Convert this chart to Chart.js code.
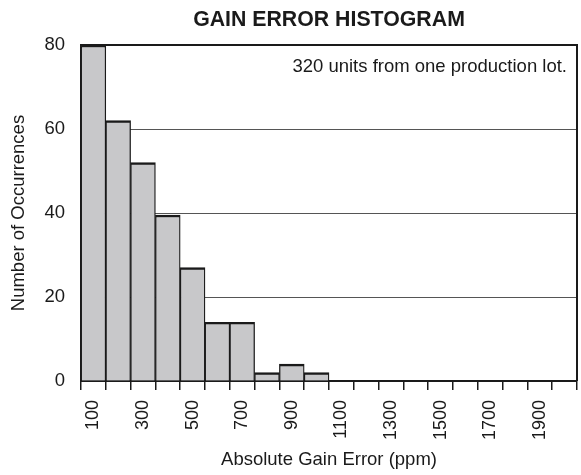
<!DOCTYPE html>
<html>
<head>
<meta charset="utf-8">
<script src="https://cdn.jsdelivr.net/npm/chart.js@4"></script>
<style>
  html, body { margin: 0; padding: 0; background: #fff; }
  #wrap { width: 581px; height: 475px; }
</style>
</head>
<body>
<div id="wrap"><canvas id="hist"></canvas></div>
<script>
// bins of absolute gain error (ppm) and counts per bin
const categories = ['100', '200', '300', '400', '500', '600', '700', '800', '900', '1000',
                    '1100', '1200', '1300', '1400', '1500', '1600', '1700', '1800', '1900', '2000'];
const counts = [80, 62, 52, 39.5, 27, 14, 14, 2, 4, 2, 0, 0, 0, 0, 0, 0, 0, 0, 0, 0];
const tickLabels = ['100', '300', '500', '700', '900', '1100', '1300', '1500', '1700', '1900'];
const yTicks = [0, 20, 40, 60, 80];
const note = '320 units from one production lot.';

const FONT = '"Liberation Sans", Arial, sans-serif';
const INK = '#1a1a1a';

const framePlugin = {
  id: 'frame',
  afterDraw(chart) {
    const { ctx, chartArea: a } = chart;
    ctx.save();
    ctx.strokeStyle = INK;
    ctx.lineWidth = 2;
    ctx.beginPath();
    ctx.moveTo(a.left, a.top);
    ctx.lineTo(a.right, a.top);
    ctx.lineTo(a.right, a.bottom);
    ctx.stroke();
    ctx.font = '18.5px ' + FONT;
    ctx.fillStyle = INK;
    ctx.textAlign = 'right';
    ctx.textBaseline = 'alphabetic';
    ctx.fillText(note, a.right - 10, 72);
    ctx.restore();
  }
};

new Chart(document.getElementById('hist'), {
  type: 'bar',
  data: {
    labels: categories,
    datasets: [{
      data: counts,
      backgroundColor: '#c8c8ca',
      borderColor: INK,
      borderWidth: { top: 2.4, left: 1.3, right: 1.3, bottom: 0 },
      barPercentage: 1,
      categoryPercentage: 1
    }]
  },
  options: {
    responsive: true,
    maintainAspectRatio: false,
    animation: false,
    layout: { padding: { left: 0, right: 4, top: 0, bottom: 0 } },
    plugins: {
      legend: { display: false },
      tooltip: { enabled: false },
      title: {
        display: true,
        fullSize: false,
        text: 'GAIN ERROR HISTOGRAM',
        color: INK,
        font: { family: FONT, size: 21.3, weight: 'bold', lineHeight: 1.2 },
        padding: { top: 7.5, bottom: 12 }
      }
    },
    scales: {
      x: {
        afterFit(scale) {
          scale.height = 94;
          scale.paddingLeft = 0;
          scale.paddingRight = 0;
        },
        border: { display: true, color: INK, width: 2 },
        grid: { drawOnChartArea: false, drawTicks: true, tickLength: 9, color: INK, lineWidth: 1.5 },
        ticks: {
          autoSkip: false,
          maxRotation: 90,
          minRotation: 90,
          padding: 10,
          color: INK,
          font: { family: FONT, size: 18 },
          callback: (v, i) => tickLabels.includes(categories[i]) ? categories[i] : ''
        },
        title: {
          display: true,
          text: 'Absolute Gain Error (ppm)',
          color: INK,
          font: { family: FONT, size: 18.5, lineHeight: 1.2 },
          padding: { top: 0, bottom: 4 }
        }
      },
      y: {
        min: 0,
        max: 80,
        afterFit(scale) { scale.width = 81; },
        afterBuildTicks(scale) { scale.ticks = yTicks.map(v => ({ value: v })); },
        border: { display: true, color: INK, width: 2 },
        grid: { drawTicks: false, color: '#555', lineWidth: 1 },
        ticks: {
          padding: 16,
          color: INK,
          font: { family: FONT, size: 18.5 }
        },
        title: {
          display: true,
          text: 'Number of Occurrences',
          color: INK,
          font: { family: FONT, size: 18.5, lineHeight: 1.2 },
          padding: { top: 7.4, bottom: 0 }
        }
      }
    }
  },
  plugins: [framePlugin]
});
</script>
</body>
</html>
